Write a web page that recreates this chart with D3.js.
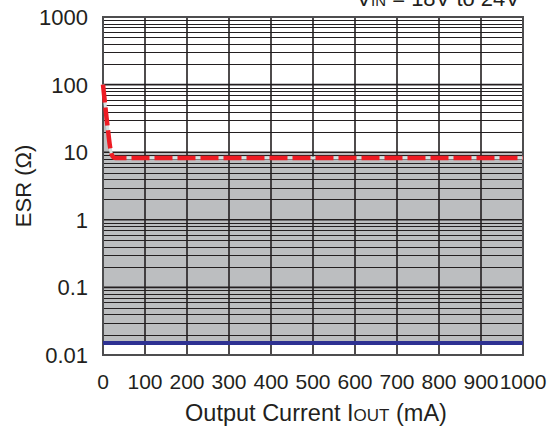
<!DOCTYPE html>
<html><head><meta charset="utf-8">
<script src="https://cdn.jsdelivr.net/npm/d3@7"></script>
<style>body{margin:0;background:#fff;} text{font-family:"Liberation Sans",Arial,sans-serif;fill:#231f20;}</style>
</head><body><svg id="c" width="550" height="430"></svg>
<script>
const xTicks = [0,100,200,300,400,500,600,700,800,900,1000];
const yTicks = [0.01,0.1,1,10,100,1000];
const yTickLabels = ["0.01","0.1","1","10","100","1000"];
// ESR upper limit curve (red dashed)
const esrCurrent = [0,4,8,12,16,20,25,30,1000];
const esrValue   = [100,58,34,21,13,9.5,8.4,8.2,8.2];
// Stable region (gray) upper bound
const stableCurrent = [0,4,8,12,16,20,25,30,1000];
const stableTop     = [100,62,38,24,15,11,10,10,10];
// Lower ESR limit (blue)
const lowCurrent = [0,1000];
const lowValue   = [0.015,0.015];

const svg = d3.select("#c");
const m = {l:103,t:17,w:420,h:338};
const x = d3.scaleLinear().domain([0,1000]).range([m.l,m.l+m.w]);
const y = d3.scaleLog().domain([0.01,1000]).range([m.t+m.h,m.t]);

// gray stable area
const area = d3.area().x((d,i)=>x(stableCurrent[i])).y0(y(lowValue[0])).y1((d,i)=>y(stableTop[i])).curve(d3.curveMonotoneX);
svg.append("path").attr("d",area(stableCurrent)).attr("fill","#bcbec0");

// horizontal grid
const minor=[];
for(let e=-2;e<3;e++){for(let k=2;k<=9;k++){minor.push(k*Math.pow(10,e));}}
svg.append("g").selectAll("line").data(minor).join("line")
 .attr("x1",m.l).attr("x2",m.l+m.w).attr("y1",d=>Math.round(y(d))+0.5).attr("y2",d=>Math.round(y(d))+0.5)
 .attr("stroke","#231f20").attr("stroke-width",1);
svg.append("g").selectAll("line").data(yTicks).join("line")
 .attr("x1",m.l).attr("x2",m.l+m.w).attr("y1",d=>y(d)).attr("y2",d=>y(d))
 .attr("stroke","#231f20").attr("stroke-width",1.6);
// vertical grid
svg.append("g").selectAll("line").data(xTicks).join("line")
 .attr("x1",d=>x(d)).attr("x2",d=>x(d)).attr("y1",m.t).attr("y2",m.t+m.h)
 .attr("stroke","#231f20").attr("stroke-width",1.6);
svg.append("rect").attr("x",m.l).attr("y",m.t).attr("width",m.w).attr("height",m.h)
 .attr("fill","none").attr("stroke","#4d4d4f").attr("stroke-width",2);

// blue line
const lowLine = d3.line().x((d,i)=>x(lowCurrent[i])).y((d,i)=>y(lowValue[i]));
svg.append("path").attr("d",lowLine(lowCurrent)).attr("fill","none").attr("stroke","#2e3192").attr("stroke-width",4);

// red dashed
const esrLine = d3.line().x((d,i)=>x(esrCurrent[i])).y((d,i)=>y(esrValue[i])).curve(d3.curveMonotoneX);
svg.append("path").attr("d",esrLine(esrCurrent)).attr("fill","none").attr("stroke","#d5e3e3").attr("stroke-width",3);
svg.append("path").attr("d",esrLine(esrCurrent)).attr("fill","none").attr("stroke","#ed1c24").attr("stroke-width",4.5)
 .attr("stroke-dasharray","18,5");

// axes labels
svg.append("g").selectAll("text").data(yTicks).join("text")
 .attr("x",88).attr("y",d=>y(d)).attr("dy","0.36em").attr("text-anchor","end").attr("font-size",22)
 .text((d,i)=>yTickLabels[i]);
svg.append("g").selectAll("text").data(xTicks).join("text")
 .attr("x",d=>x(d)).attr("y",389).attr("text-anchor","middle").attr("font-size",21).text(d=>d);

const xt = svg.append("text").attr("x",316).attr("y",421).attr("text-anchor","middle").attr("font-size",23.5);
xt.append("tspan").text("Output Current I");
xt.append("tspan").attr("font-size",17).text("OUT");
xt.append("tspan").text(" (mA)");

svg.append("text").attr("transform","translate(31,186) rotate(-90)").attr("text-anchor","middle").attr("font-size",22).text("ESR (Ω)");

const tt = svg.append("text").attr("x",520).attr("y",6).attr("text-anchor","end").attr("font-size",22);
tt.append("tspan").text("V");
tt.append("tspan").attr("font-size",15).text("IN");
tt.append("tspan").text(" = 18V to 24V");
</script></body></html>
